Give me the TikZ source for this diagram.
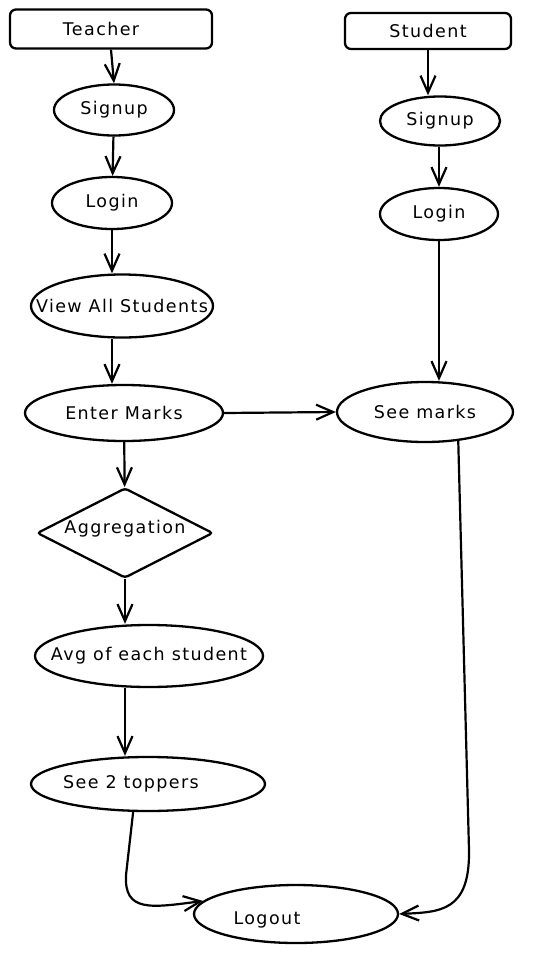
\documentclass[tikz,border=0pt]{standalone}
\usepackage{fontspec}
\setmainfont[LetterSpace=8]{DejaVu Sans}
\usetikzlibrary{shapes.geometric,arrows.meta}
\newcommand\mytxt[2][0pt]{\makebox[0pt]{#2\hspace*{#1}}}
\begin{document}
\begin{tikzpicture}[x=1pt,y=-1pt,
  every node/.style={font=\fontsize{17.5}{20}\selectfont, inner sep=0pt, line width=2.3pt, draw},
  actor/.style={rectangle, rounded corners=6pt},
  oval/.style={ellipse},
  decide/.style={diamond, rounded corners=3pt},
  arr/.style={-{Straight Barb[length=17pt,width=15pt]}, line width=2.2pt},
]
\useasboundingbox (0,0) rectangle (548,953);
\node[actor, minimum width=202pt, minimum height=39pt] (teacher) at (111,29) {\mytxt[20pt]{Teacher}};
\node[actor, minimum width=166pt, minimum height=36pt] (student) at (428,31) {\mytxt{Student}};
\node[oval, minimum width=120pt, minimum height=51pt] (tsignup) at (114,110) {\mytxt{Signup}};
\node[oval, minimum width=120pt, minimum height=52pt] (tlogin) at (112,203) {\mytxt{Login}};
\node[oval, minimum width=182pt, minimum height=63pt] (view) at (122,306) {\mytxt{View All Students}};
\node[oval, minimum width=198pt, minimum height=56pt] (enter) at (124,413) {\mytxt{Enter Marks}};
\node[oval, minimum width=176pt, minimum height=60pt] (seemarks) at (425,412) {\mytxt{See marks}};
\node[oval, minimum width=120pt, minimum height=49pt] (ssignup) at (440,121) {\mytxt{Signup}};
\node[oval, minimum width=118pt, minimum height=52pt] (slogin) at (439,214) {\mytxt{Login}};
\node[decide, minimum width=176pt, minimum height=90pt] (agg) at (125,533) {\mytxt{\raisebox{4pt}[\height][\depth]{Aggregation}}};
\node[oval, minimum width=228pt, minimum height=62pt] (avg) at (149,656) {\mytxt{Avg of each student}};
\node[oval, minimum width=234pt, minimum height=54pt] (toppers) at (148,784) {\mytxt[34pt]{See 2 toppers}};
\node[oval, minimum width=204pt, minimum height=58pt] (logout) at (296,914) {\mytxt[58pt]{\raisebox{-6pt}[\height][\depth]{Logout}}};

\draw[arr] (teacher.south) -- (tsignup.north);
\draw[arr] (tsignup) -- (tlogin);
\draw[arr] (tlogin.south) -- (tlogin.south |- view.north);
\draw[arr] (tlogin.south |- view.south) -- (tlogin.south |- enter.north);
\draw[arr] (enter) -- (agg);
\draw[arr] (agg.south) -- (agg.south |- avg.north);
\draw[arr] (agg.south |- avg.south) -- (agg.south |- toppers.north);
\draw[arr] (student.south) -- (student.south |- ssignup.north);
\draw[arr] (slogin.north |- ssignup.south) -- (slogin.north);
\draw[arr] (slogin.south) -- (slogin.south |- seemarks.north);
\draw[arr] (enter.east) -- (seemarks.west);
\draw[arr] (seemarks.-41) -- (469,850) .. controls (470,912) and (440,912) .. (logout.east);
\draw[arr] (toppers.-118) -- (126,875) .. controls (124,912) and (150,908) .. (logout.172);
\end{tikzpicture}
\end{document}
